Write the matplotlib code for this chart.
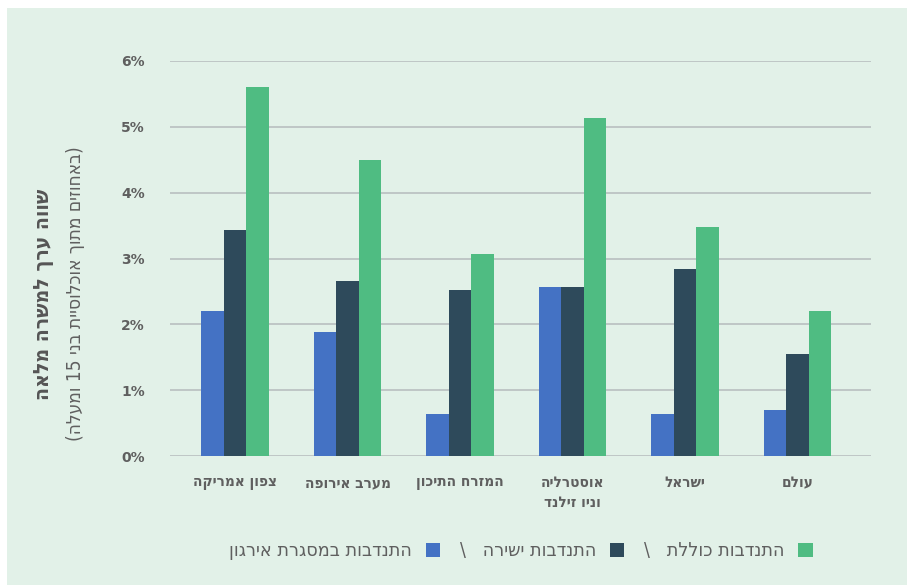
import re
import numpy as np
from matplotlib import pyplot as plt
from matplotlib.patches import Rectangle

def rtl(s):
    # no bidi in matplotlib: put hebrew into visual order by hand
    r = s[::-1]
    r = re.sub(r'\d+', lambda m: m.group(0)[::-1], r)
    return r.translate(str.maketrans('()', ')('))

categories = ["צפון אמריקה", "מערב אירופה", "המזרח התיכון", "אוסטרליה\nוניו זילנד", "ישראל", "עולם"]
org = [2.20, 1.88, 0.64, 2.57, 0.64, 0.70]
direct = [3.43, 2.66, 2.52, 2.57, 2.84, 1.55]
total = [5.61, 4.50, 3.07, 5.14, 3.48, 2.20]
yticks = [0, 1, 2, 3, 4, 5, 6]
series_names = ["התנדבות במסגרת אירגון", "התנדבות ישירה", "התנדבות כוללת"]
ylabel_main = "שווה ערך למשרה מלאה"
ylabel_sub = "(באחוזים מתוך אוכלוסיית בני 15 ומעלה)"

c_org = "#4472c4"
c_dir = "#2e4a5b"
c_tot = "#4fbc82"
bg = "#e2f1e8"
txt = "#5f5f5f"

plt.rcParams['font.family'] = ['DejaVu Sans']
plt.rcParams['font.stretch'] = 'condensed'

fig = plt.figure(figsize=(9.07, 5.85), dpi=100)
fig.patch.set_facecolor("white")
fig.patches.append(Rectangle((7/907, 0), 1, 1 - 8/585, transform=fig.transFigure,
                             facecolor=bg, edgecolor="none", zorder=-10))

ax = fig.add_axes([170/907, 1 - 456/585, 701/907, 395/585])
ax.set_facecolor(bg)
ax.patch.set_alpha(0)

x = np.arange(len(categories))
w = 0.2
ax.bar(x - w, org, w, color=c_org, label=rtl(series_names[0]), zorder=3)
ax.bar(x, direct, w, color=c_dir, label="\\   " + rtl(series_names[1]), zorder=3)
ax.bar(x + w, total, w, color=c_tot, label="\\   " + rtl(series_names[2]), zorder=3)

ax.set_xlim(-0.578, 5.653)
ax.set_ylim(0, 6)
ax.set_yticks(yticks)
ax.set_yticklabels(["%d%%" % v for v in yticks], fontsize=10, fontweight="bold",
                   color=txt, stretch="normal")
ax.yaxis.grid(True, color="#bcc3c3", linewidth=1.3, zorder=0)
ax.tick_params(axis="y", length=0, pad=18)
ax.tick_params(axis="x", length=0, pad=14)
ax.set_xticks(x)
ax.set_xticklabels(["\n".join(rtl(p) for p in c.split("\n")) for c in categories],
                   fontsize=11, fontweight="bold", color=txt, linespacing=1.35, va="top")
for s in ax.spines.values():
    s.set_visible(False)

fig.text(44/907, 1 - 294/585, rtl(ylabel_main), rotation=90, ha="center", va="center",
         fontsize=15.2, fontweight="bold", color="#555555")
fig.text(76/907, 1 - 294/585, rtl(ylabel_sub), rotation=90, ha="center", va="center",
         fontsize=13.7, color=txt)

leg = fig.legend(loc="center", bbox_to_anchor=(521/907, 1 - 551/585), ncol=3, frameon=False,
                 markerfirst=False, fontsize=14, handlelength=0.75, handleheight=0.75,
                 columnspacing=1.0, handletextpad=0.7)
for t in leg.get_texts():
    t.set_color(txt)

fig.savefig("out.png", dpi=100)
